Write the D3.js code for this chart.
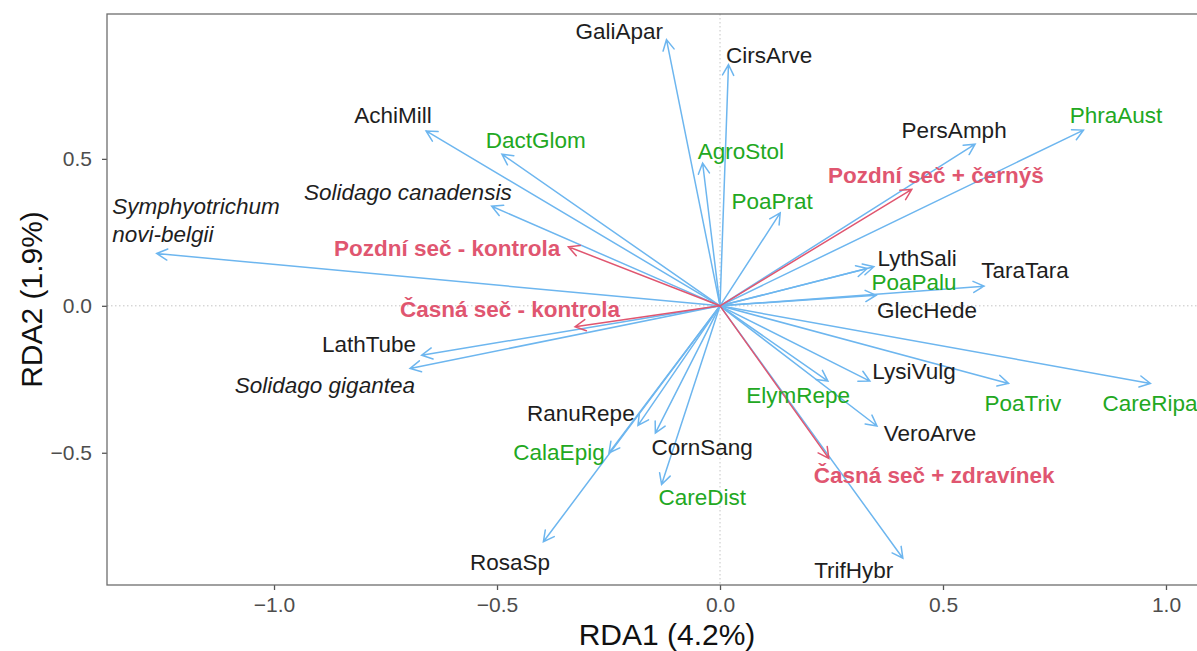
<!DOCTYPE html>
<html lang="cs">
<head>
  <meta charset="UTF-8">
  <title>RDA</title>
  <script src="https://d3js.org/d3.v7.min.js"></script>
  <style>
    body { margin: 0; background: #fff; }
    svg { display: block; font-family: "Liberation Sans", Arial, sans-serif; }
    .arrow { fill: none; stroke-width: 1.5px; stroke-linecap: round; }
  </style>
</head>
<body>
  <svg width="1197" height="651"></svg>

  <script>
    // species scores (arrow tips)
    const species = ["GaliApar", "CirsArve", "AchiMill", "DactGlom", "Solidago canadensis", "AgroStol",
      "PoaPrat", "PersAmph", "PhraAust", "LythSali", "PoaPalu", "GlecHede", "TaraTara",
      "Symphyotrichum\nnovi-belgii", "LathTube", "Solidago gigantea", "RanuRepe", "CornSang",
      "CalaEpig", "CareDist", "RosaSp", "ElymRepe", "LysiVulg", "VeroArve", "PoaTriv",
      "CareRipa", "TrifHybr"];
    const spX = [-0.120, 0.019, -0.659, -0.489, -0.512, -0.039, 0.135, 0.572, 0.815, 0.345, 0.330,
      0.350, 0.592, -1.263, -0.669, -0.695, -0.184, -0.145, -0.249, -0.131, -0.396, 0.242, 0.336,
      0.352, 0.647, 0.965, 0.410];
    const spY = [0.906, 0.821, 0.595, 0.516, 0.339, 0.486, 0.316, 0.550, 0.598, 0.133, 0.127,
      0.036, 0.067, 0.178, -0.168, -0.213, -0.407, -0.433, -0.501, -0.608, -0.803, -0.256, -0.256,
      -0.409, -0.264, -0.264, -0.859];
    // g = graminoid, f = other, i = invasive (italic)
    const spGroup = ["f", "f", "f", "g", "i", "g", "g", "f", "g", "f", "g", "f", "f", "i", "f", "i",
      "f", "f", "g", "g", "f", "g", "f", "f", "g", "g", "f"];
    // repelled label positions
    const spLabX = [-0.226, 0.110, -0.733, -0.413, -0.700, 0.047, 0.117, 0.525, 0.888, 0.442, 0.435,
      0.464, 0.684, -1.363, -0.787, -0.886, -0.312, -0.040, -0.361, -0.040, -0.471, 0.175, 0.435,
      0.471, 0.679, 0.964, 0.300];
    const spLabY = [0.934, 0.853, 0.649, 0.564, 0.387, 0.526, 0.356, 0.598, 0.649, 0.162, 0.081,
      -0.015, 0.121, 0.339, -0.130, -0.270, -0.365, -0.481, -0.498, -0.651, -0.872, -0.304, -0.222,
      -0.433, -0.331, -0.331, -0.899];

    // treatments
    const treatments = ["Pozdní seč - kontrola", "Časná seč - kontrola", "Pozdní seč + černýš", "Časná seč + zdravínek"];
    const trX = [-0.340, -0.325, 0.430, 0.244];
    const trY = [0.201, -0.071, 0.396, -0.519];
    const trLabX = [-0.612, -0.471, 0.484, 0.480];
    const trLabY = [0.196, -0.011, 0.445, -0.579];

    const xTicks = [-1.0, -0.5, 0.0, 0.5, 1.0];
    const yTicks = [-0.5, 0.0, 0.5];
    const xTitle = "RDA1 (4.2%)";
    const yTitle = "RDA2 (1.9%)";

    const blue = "#6db6ef", red = "#e05670", green = "#22a822", dark = "#1e1e1e";
    const svg = d3.select("svg");
    const pLeft = 107, pRight = 1227, pTop = 14, pBottom = 585;

    const x = d3.scaleLinear().domain([-1.3745, 1.1368]).range([pLeft, pRight]);
    const y = d3.scaleLinear().domain([-0.950, 0.993]).range([pBottom, pTop]);

    const fmt = v => (v < 0 ? "\u2212" : "") + Math.abs(v).toFixed(1);

    // zero lines
    svg.append("line").attr("x1", x(0)).attr("x2", x(0)).attr("y1", pTop).attr("y2", pBottom)
      .attr("stroke", "#c4c4c4").attr("stroke-dasharray", "1.5,2.5");
    svg.append("line").attr("x1", pLeft).attr("x2", pRight).attr("y1", y(0)).attr("y2", y(0))
      .attr("stroke", "#c4c4c4").attr("stroke-dasharray", "1.5,2.5");

    // axes
    const xAxis = svg.append("g").attr("transform", `translate(0,${pBottom})`)
      .call(d3.axisBottom(x).tickValues(xTicks).tickFormat(fmt).tickSize(5).tickPadding(7));
    const yAxis = svg.append("g").attr("transform", `translate(${pLeft},0)`)
      .call(d3.axisLeft(y).tickValues(yTicks).tickFormat(fmt).tickSize(5).tickPadding(10));
    [xAxis, yAxis].forEach(a => {
      a.select(".domain").remove();
      a.selectAll("line").attr("stroke", "#555").attr("stroke-width", 1.3);
      a.selectAll("text").attr("fill", "#4d4d4d").style("font-size", "21px")
        .style("font-family", "'Liberation Sans', Arial, sans-serif");
    });

    // panel border
    svg.append("rect").attr("x", pLeft).attr("y", pTop).attr("width", pRight - pLeft).attr("height", pBottom - pTop)
      .attr("fill", "none").attr("stroke", "#6e6e6e").attr("stroke-width", 1.3);

    svg.append("text").attr("x", 667).attr("y", 645).attr("text-anchor", "middle")
      .style("font-size", "30px").attr("fill", "#111").text(xTitle);
    svg.append("text").attr("transform", `translate(42,${(pTop + pBottom) / 2}) rotate(-90)`)
      .attr("text-anchor", "middle").style("font-size", "30px").attr("fill", "#111").text(yTitle);

    function arrow(g, tx, ty, color) {
      const x0 = x(0), y0 = y(0), x1 = x(tx), y1 = y(ty);
      const a = Math.atan2(y1 - y0, x1 - x0), len = 12, spread = Math.PI / 6.5;
      const p = d3.path();
      p.moveTo(x0, y0); p.lineTo(x1, y1);
      p.moveTo(x1 - len * Math.cos(a - spread), y1 - len * Math.sin(a - spread));
      p.lineTo(x1, y1);
      p.lineTo(x1 - len * Math.cos(a + spread), y1 - len * Math.sin(a + spread));
      g.append("path").attr("class", "arrow").attr("d", p.toString()).attr("stroke", color);
    }

    const arrows = svg.append("g");
    species.forEach((s, i) => arrow(arrows, spX[i], spY[i], blue));
    treatments.forEach((t, i) => arrow(arrows, trX[i], trY[i], red));

    // species labels
    const labs = svg.append("g").style("font-size", "22.5px");
    species.forEach((s, i) => {
      const lines = s.split("\n");
      const multi = lines.length > 1;
      const t = labs.append("text")
        .attr("x", x(spLabX[i]))
        .attr("y", y(spLabY[i]))
        .attr("text-anchor", multi ? "start" : "middle")
        .attr("dominant-baseline", "central")
        .attr("fill", spGroup[i] === "g" ? green : dark)
        .style("font-style", spGroup[i] === "i" ? "italic" : "normal");
      lines.forEach((l, k) => t.append("tspan").attr("x", x(spLabX[i])).attr("dy", k ? 28 : 0).text(l));
    });

    treatments.forEach((t, i) => {
      labs.append("text")
        .attr("x", x(trLabX[i]))
        .attr("y", y(trLabY[i]))
        .attr("text-anchor", "middle")
        .attr("dominant-baseline", "central")
        .attr("fill", red)
        .style("font-weight", "bold")
        .text(t);
    });
  </script>
</body>
</html>
